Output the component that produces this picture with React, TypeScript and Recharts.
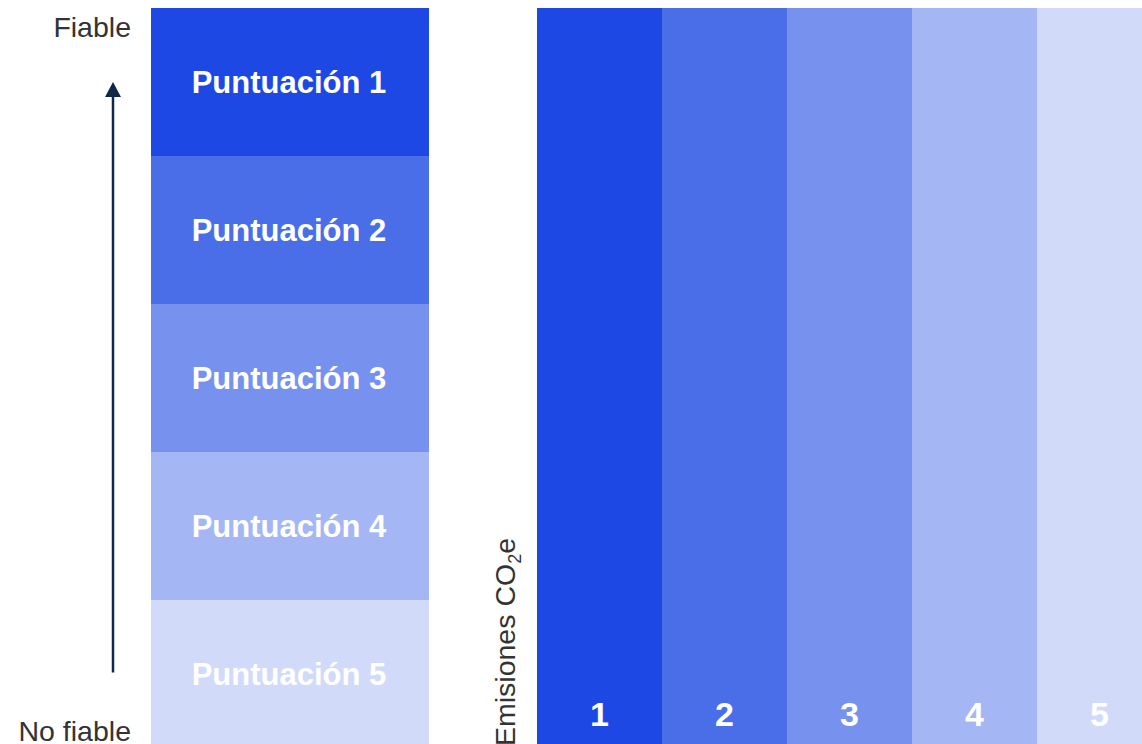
import { BarChart, Bar, XAxis, YAxis, Cell, LabelList, Label, Customized } from "recharts"

const SCORE_KEYS = ["s1", "s2", "s3", "s4", "s5"]
const SCORE_LABELS = ["Puntuación 1", "Puntuación 2", "Puntuación 3", "Puntuación 4", "Puntuación 5"]
const SCORE_SHARES = [1, 1, 1, 1, 1]
const SCORE_COLORS = ["#1d48e3", "#4a6de8", "#7791ee", "#a5b6f4", "#d2daf9"]

const RELIABILITY_TICKS = [0, 5]
const RELIABILITY_LABELS: Record<number, string> = { 0: "No fiable", 5: "Fiable" }

const EMISSION_CATEGORIES = ["1", "2", "3", "4", "5"]
const EMISSION_VALUES = [1, 1, 1, 1, 1]

const FONT = "'Liberation Sans', Arial, sans-serif"
const CHART_H = 740

const scoreRow: Record<string, string | number> = { name: "Puntuación" }
SCORE_KEYS.forEach((k, i) => {
	scoreRow[k] = SCORE_SHARES[i]
})
const scoreData = [scoreRow]

const emissionData = EMISSION_CATEGORIES.map((name, i) => ({ name, value: EMISSION_VALUES[i] }))

const ReliabilityTick = (props: any) => {
	const { x, y, payload } = props
	const top = payload.value === 5
	return (
		<text x={x} y={y + (top ? 28.7 : -7)} textAnchor="end" fontSize={28.5} fontFamily={FONT} fill="#333333">
			{RELIABILITY_LABELS[payload.value]}
		</text>
	)
}

// arrow from score 0.5 up to 4.5 on the reliability scale
const ReliabilityArrow = () => {
	const yOf = (v: number) => CHART_H * (1 - v / 5)
	const x = 105
	const tip = yOf(4.5)
	return (
		<g>
			<line x1={x} x2={x} y1={yOf(0.51)} y2={tip + 12} stroke="#0f2847" strokeWidth={2.5} />
			<polygon points={`${x},${tip} ${x - 8},${tip + 15} ${x + 8},${tip + 15}`} fill="#0f2847" />
		</g>
	)
}

const segmentLabel = (text: string) => (props: any) => {
	const x = Number(props.x)
	const y = Number(props.y)
	const w = Number(props.width)
	const h = Number(props.height)
	return (
		<text x={x + w / 2 - 1} y={y + h / 2 + 11} textAnchor="middle" fontSize={31} fontWeight="bold" fontFamily={FONT} fill="#ffffff">
			{text}
		</text>
	)
}

const EmissionNumber = (props: any) => {
	const x = Number(props.x)
	const y = Number(props.y)
	const w = Number(props.width)
	const h = Number(props.height)
	return (
		<text x={x + w / 2} y={y + h - 22} textAnchor="middle" fontSize={34} fontWeight="bold" fontFamily={FONT} fill="#ffffff">
			{props.value}
		</text>
	)
}

const EmissionsAxisLabel = (props: any) => {
	const vb = props.viewBox || { x: 0, y: 0, width: 67, height: CHART_H }
	const bx = vb.x + 45
	const by = vb.y + vb.height - 2
	return (
		<text x={bx} y={by} transform={`rotate(-90, ${bx}, ${by})`} textAnchor="start" fontSize={28.5} fontFamily={FONT} fill="#333333">
			Emisiones CO
			<tspan fontSize={18} dy={6}>2</tspan>
			<tspan dy={-6}>e</tspan>
		</text>
	)
}

const App = () => {
	return (
		<div style={{ position: "relative", width: 1142, height: 744, overflow: "hidden" }}>
			<style>{"html, body { margin: 0; padding: 0; overflow: hidden; }"}</style>
			<div style={{ position: "absolute", left: 8, top: 8 }}>
				<BarChart width={421} height={CHART_H} data={scoreData} margin={{ top: 0, right: 0, bottom: 0, left: 0 }} barCategoryGap={0}>
					<XAxis dataKey="name" hide />
					<YAxis
						type="number"
						domain={[0, 5]}
						ticks={RELIABILITY_TICKS}
						interval={0}
						width={143}
						axisLine={false}
						tickLine={false}
						tickMargin={14}
						tick={ReliabilityTick}
					/>
					{[...SCORE_KEYS].reverse().map((k) => {
						const i = SCORE_KEYS.indexOf(k)
						return (
							<Bar key={k} dataKey={k} stackId="score" fill={SCORE_COLORS[i]} isAnimationActive={false}>
								<LabelList dataKey={k} content={segmentLabel(SCORE_LABELS[i])} />
							</Bar>
						)
					})}
					<Customized component={ReliabilityArrow} />
				</BarChart>
			</div>
			<div style={{ position: "absolute", left: 470, top: 8 }}>
				<BarChart width={692} height={CHART_H} data={emissionData} margin={{ top: 0, right: 0, bottom: 0, left: 0 }} barCategoryGap={0}>
					<XAxis dataKey="name" hide />
					<YAxis type="number" domain={[0, 1]} width={67} axisLine={false} tickLine={false} tick={false}>
						<Label content={EmissionsAxisLabel} />
					</YAxis>
					<Bar dataKey="value" isAnimationActive={false}>
						{emissionData.map((d, i) => (
							<Cell key={d.name} fill={SCORE_COLORS[i]} />
						))}
						<LabelList dataKey="name" content={EmissionNumber} />
					</Bar>
				</BarChart>
			</div>
		</div>
	)
}

export default App
